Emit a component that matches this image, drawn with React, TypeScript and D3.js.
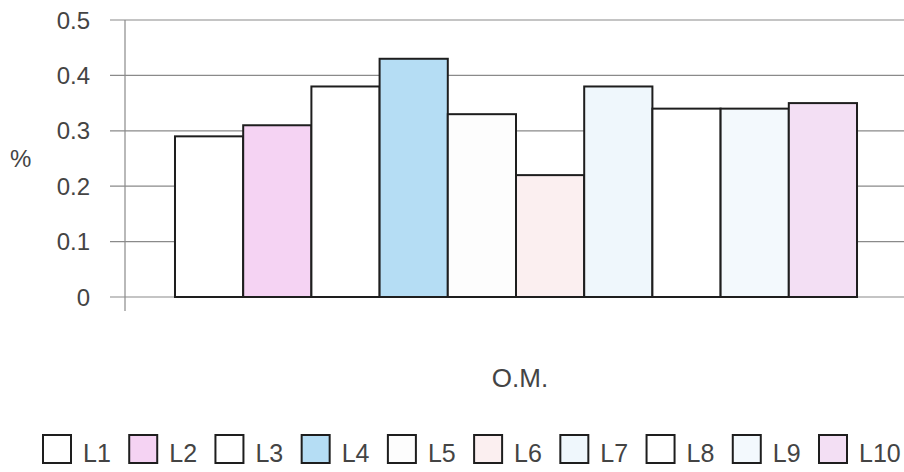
import React, { useEffect, useRef } from "react";
import * as d3 from "d3";

// Organic matter (O.M.) content, %, per sample site
const categories = ["L1", "L2", "L3", "L4", "L5", "L6", "L7", "L8", "L9", "L10"];
const values = [0.29, 0.31, 0.38, 0.43, 0.33, 0.22, 0.38, 0.34, 0.34, 0.35];
const fills = [
  "#ffffff", "#f5d3f3", "#ffffff", "#b5ddf4", "#fdfdfd",
  "#fbeff0", "#eff7fc", "#ffffff", "#f3f9fd", "#f3dff4",
];
const yTicks = [0, 0.1, 0.2, 0.3, 0.4, 0.5];
const tickLabels = ["0", "0.1", "0.2", "0.3", "0.4", "0.5"];

const W = 904;
const H = 472;
const FONT = "'Liberation Sans', Arial, sans-serif";
const TEXT = "#444444";

export default function App() {
  const ref = useRef<SVGSVGElement | null>(null);

  useEffect(() => {
    const svg = d3.select(ref.current);
    svg.selectAll("*").remove();

    const plotLeft = 125;
    const plotRight = 907;
    const y = d3.scaleLinear().domain([0, 0.5]).range([297, 20]);
    const x = d3
      .scaleBand<string>()
      .domain(categories)
      .range([plotLeft, plotRight])
      .paddingInner(0)
      .paddingOuter(0.733);

    // gridlines (extend left of the axis as tick marks)
    svg
      .append("g")
      .selectAll("line")
      .data(yTicks)
      .join("line")
      .attr("x1", 110)
      .attr("x2", plotRight)
      .attr("y1", (d) => y(d))
      .attr("y2", (d) => y(d))
      .attr("stroke", "#8a8a8a")
      .attr("stroke-width", 1.2);

    // value axis
    svg
      .append("line")
      .attr("x1", plotLeft)
      .attr("x2", plotLeft)
      .attr("y1", y(0.5))
      .attr("y2", y(0) + 14)
      .attr("stroke", "#8a8a8a")
      .attr("stroke-width", 1.2);

    // tick labels
    svg
      .append("g")
      .selectAll("text")
      .data(yTicks)
      .join("text")
      .attr("x", 90)
      .attr("y", (d) => y(d))
      .attr("dy", "0.36em")
      .attr("text-anchor", "end")
      .attr("font-family", FONT)
      .attr("font-size", 24)
      .attr("fill", TEXT)
      .text((_, i) => tickLabels[i]);

    // bars
    svg
      .append("g")
      .selectAll("rect")
      .data(values)
      .join("rect")
      .attr("x", (_, i) => x(categories[i])!)
      .attr("y", (d) => y(d))
      .attr("width", x.bandwidth())
      .attr("height", (d) => y(0) - y(d))
      .attr("fill", (_, i) => fills[i])
      .attr("stroke", "#1e1e1e")
      .attr("stroke-width", 2);

    // y title
    svg
      .append("text")
      .attr("x", 10)
      .attr("y", 167)
      .attr("font-family", FONT)
      .attr("font-size", 24)
      .attr("fill", TEXT)
      .text("%");

    // x title
    svg
      .append("text")
      .attr("x", 520)
      .attr("y", 387)
      .attr("text-anchor", "middle")
      .attr("font-family", FONT)
      .attr("font-size", 26)
      .attr("fill", TEXT)
      .text("O.M.");

    // legend
    const legendX = d3
      .scaleLinear()
      .domain([0, categories.length - 1])
      .range([43, 819]);
    const items = svg
      .append("g")
      .selectAll("g")
      .data(categories)
      .join("g")
      .attr("transform", (_, i) => `translate(${legendX(i)},435)`);
    items
      .append("rect")
      .attr("x", 0)
      .attr("y", 0)
      .attr("width", 28)
      .attr("height", 28)
      .attr("fill", (_, i) => fills[i])
      .attr("stroke", "#1e1e1e")
      .attr("stroke-width", 2);
    items
      .append("text")
      .attr("x", 40)
      .attr("y", 27)
      .attr("font-family", FONT)
      .attr("font-size", 25)
      .attr("fill", TEXT)
      .text((d) => d);
  }, []);

  return (
    <svg
      ref={ref}
      width={W}
      height={H}
      style={{ position: "absolute", left: 0, top: 0, background: "#ffffff" }}
    />
  );
}
